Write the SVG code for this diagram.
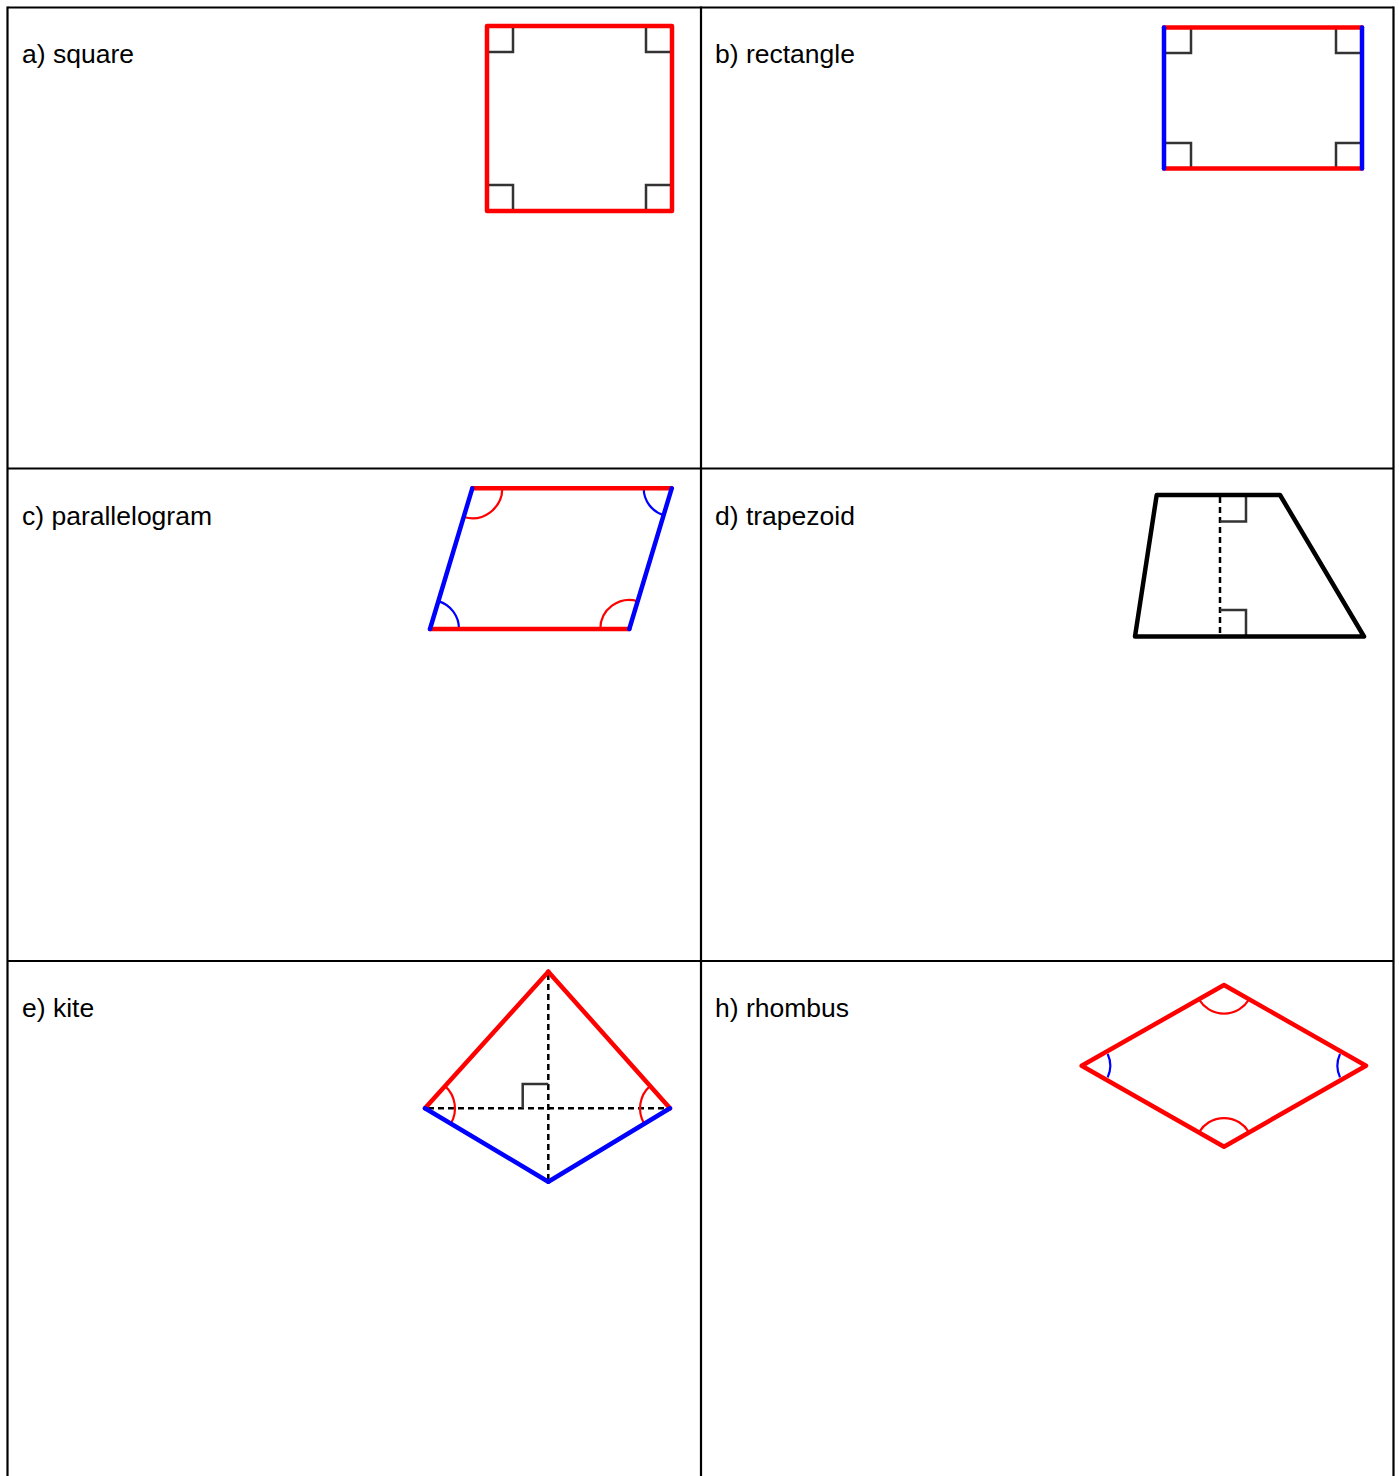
<svg xmlns="http://www.w3.org/2000/svg" width="1399" height="1476" viewBox="0 0 1399 1476">
<style>
.grid{stroke:#000;stroke-width:2.2;fill:none}
.lbl{font-family:"Liberation Sans",Arial,sans-serif;font-size:26.5px;fill:#000}
.red{stroke:#ff0000;stroke-width:4.5;fill:none;stroke-linecap:round;stroke-linejoin:round}
.blue{stroke:#0000ff;stroke-width:4.5;fill:none;stroke-linecap:round;stroke-linejoin:round}
.blk{stroke:#000;stroke-width:4.5;fill:none;stroke-linejoin:round}
.ra{stroke:#333;stroke-width:2.5;fill:none}
.arcr{stroke:#ff0000;stroke-width:2.2;fill:none}
.arcb{stroke:#0000ff;stroke-width:2.2;fill:none}
.dash{stroke:#000;stroke-width:2.5;fill:none;stroke-dasharray:6 4}
</style>
<rect width="1399" height="1476" fill="#fff"/>
<g id="table">
<line class="grid" x1="7.5" y1="7.5" x2="1393.5" y2="7.5"/>
<line class="grid" x1="7.5" y1="468.5" x2="1393.5" y2="468.5"/>
<line class="grid" x1="7.5" y1="961" x2="1393.5" y2="961"/>
<line class="grid" x1="7.5" y1="6.5" x2="7.5" y2="1476"/>
<line class="grid" x1="701" y1="6.5" x2="701" y2="1476"/>
<line class="grid" x1="1393.5" y1="6.5" x2="1393.5" y2="1476"/>
</g>
<g id="square">
<text class="lbl" x="22" y="63">a) square</text>
<rect class="red" x="487" y="26" width="185" height="185" stroke-linecap="butt" stroke-linejoin="miter"/>
<polyline class="ra" points="489,52 513,52 513,28"/>
<polyline class="ra" points="670,52 646,52 646,28"/>
<polyline class="ra" points="489,185 513,185 513,209"/>
<polyline class="ra" points="670,185 646,185 646,209"/>
</g>
<g id="rectangle">
<text class="lbl" x="715" y="63">b) rectangle</text>
<polyline class="ra" points="1166,53 1191,53 1191,29"/>
<polyline class="ra" points="1360,53 1336,53 1336,29"/>
<polyline class="ra" points="1166,143 1191,143 1191,167"/>
<polyline class="ra" points="1360,143 1336,143 1336,167"/>
<line class="red" x1="1164" y1="27.5" x2="1362" y2="27.5"/>
<line class="red" x1="1164" y1="168.5" x2="1362" y2="168.5"/>
<line class="blue" x1="1164" y1="27.5" x2="1164" y2="168.5"/>
<line class="blue" x1="1362" y1="27.5" x2="1362" y2="168.5"/>
</g>
<g id="parallelogram">
<text class="lbl" x="22" y="525">c) parallelogram</text>
<path class="arcr" d="M502.3,488.3 A30,30 0 0 1 463.7,517"/>
<path class="arcb" d="M643.7,488.3 A28,28 0 0 0 663.6,515.1"/>
<path class="arcb" d="M438.4,601.1 A29,29 0 0 1 459,629"/>
<path class="arcr" d="M600.3,629 A29,29 0 0 1 637.7,601.2"/>
<line class="red" x1="472.3" y1="488.3" x2="671.7" y2="488.3"/>
<line class="red" x1="430" y1="629" x2="629.3" y2="629"/>
<line class="blue" x1="472.3" y1="488.3" x2="430" y2="629"/>
<line class="blue" x1="671.7" y1="488.3" x2="629.3" y2="629"/>
</g>
<g id="trapezoid">
<text class="lbl" x="715" y="525">d) trapezoid</text>
<line class="dash" x1="1220" y1="497" x2="1220" y2="635"/>
<polyline class="ra" points="1220,521.5 1246,521.5 1246,496"/>
<polyline class="ra" points="1220,610 1246,610 1246,635"/>
<polygon class="blk" points="1156.7,495 1280,495 1364,636.5 1135,636.5"/>
</g>
<g id="kite">
<text class="lbl" x="22" y="1017">e) kite</text>
<line class="dash" x1="548.3" y1="974" x2="548.3" y2="1180"/>
<line class="dash" x1="428" y1="1108.3" x2="668" y2="1108.3"/>
<polyline class="ra" points="522.7,1108.3 522.7,1084 548.3,1084"/>
<path class="arcr" d="M445.1,1086.1 A30,30 0 0 1 450.8,1123.6"/>
<path class="arcr" d="M649.9,1086.1 A30,30 0 0 0 644.2,1123.6"/>
<line class="red" x1="548.3" y1="971.7" x2="425" y2="1108.3"/>
<line class="red" x1="548.3" y1="971.7" x2="670" y2="1108.3"/>
<line class="blue" x1="425" y1="1108.3" x2="548.3" y2="1181.7"/>
<line class="blue" x1="670" y1="1108.3" x2="548.3" y2="1181.7"/>
</g>
<g id="rhombus">
<text class="lbl" x="715" y="1017">h) rhombus</text>
<path class="arcr" d="M1199.2,999.7 A29,29 0 0 0 1248.8,999.7"/>
<path class="arcr" d="M1199.2,1132 A29,29 0 0 1 1248.8,1132"/>
<path class="arcb" d="M1107.7,1054 A28.5,28.5 0 0 1 1107.7,1077.4"/>
<path class="arcb" d="M1340,1054 A28.5,28.5 0 0 0 1340,1077.4"/>
<polygon class="red" points="1081.7,1065.7 1224,985 1366,1065.7 1224,1146.7"/>
</g>
</svg>
